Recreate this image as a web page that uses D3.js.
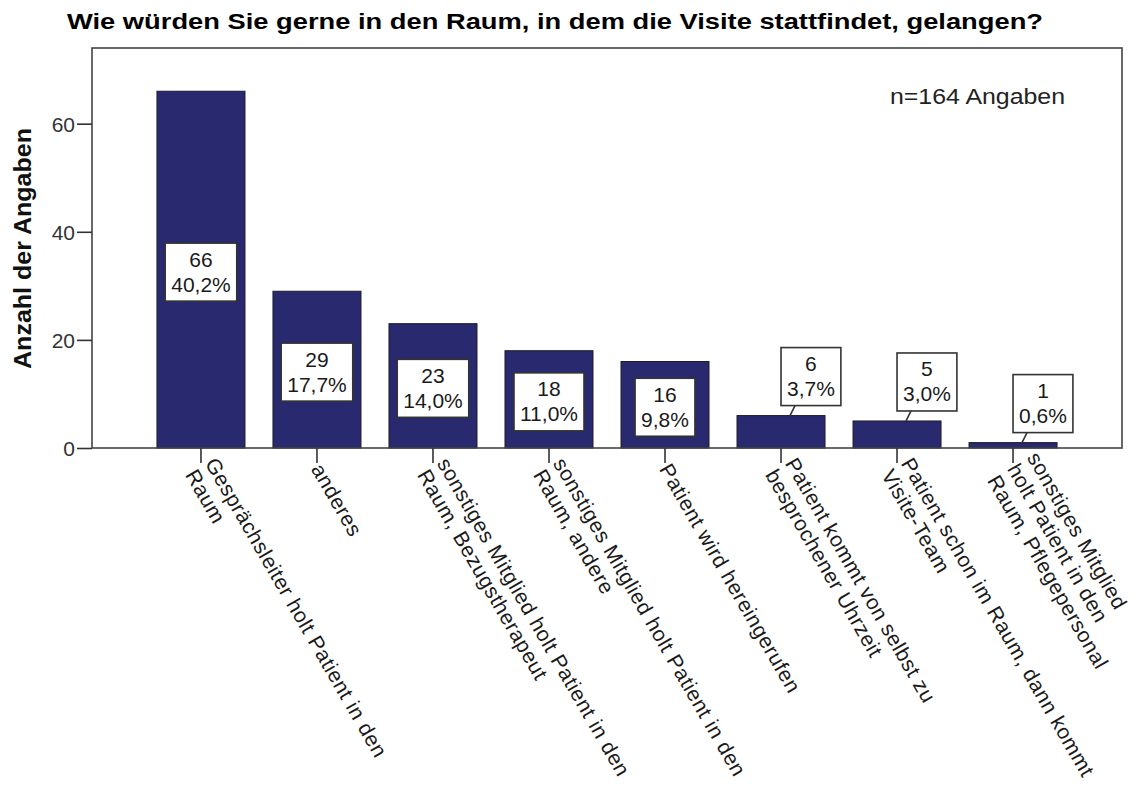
<!DOCTYPE html>
<html>
<head>
<meta charset="utf-8">
<script src="https://cdn.jsdelivr.net/npm/d3@7"></script>
<style>
  html, body { margin: 0; padding: 0; background: #fff; }
  svg { display: block; font-family: "Liberation Sans", Arial, sans-serif; }
</style>
</head>
<body>
<svg id="chart" width="1136" height="787"></svg>
<script>
// Antworten auf die Frage nach dem Weg in den Visitenraum
const categories = [
  "Gesprächsleiter holt Patient in den Raum",
  "anderes",
  "sonstiges Mitglied holt Patient in den Raum, Bezugstherapeut",
  "sonstiges Mitglied holt Patient in den Raum, andere",
  "Patient wird hereingerufen",
  "Patient kommt von selbst zu besprochener Uhrzeit",
  "Patient schon im Raum, dann kommt Visite-Team",
  "sonstiges Mitglied holt Patient in den Raum, Pflegepersonal"
];
const counts = [66, 29, 23, 18, 16, 6, 5, 1];
const total = 164;

// umbrochene Achsenbeschriftungen
const tickLines = [
  ["Gesprächsleiter holt Patient in den", "Raum"],
  ["anderes"],
  ["sonstiges Mitglied holt Patient in den", "Raum, Bezugstherapeut"],
  ["sonstiges Mitglied holt Patient in den", "Raum, andere"],
  ["Patient wird hereingerufen"],
  ["Patient kommt von selbst zu", "besprochener Uhrzeit"],
  ["Patient schon im Raum, dann kommt", "Visite-Team"],
  ["sonstiges Mitglied", "holt Patient in den", "Raum, Pflegepersonal"]
];
const yTicks = [0, 20, 40, 60];

const titleText = "Wie würden Sie gerne in den Raum, in dem die Visite stattfindet, gelangen?";
const yTitle = "Anzahl der Angaben";
const noteText = "n=" + total + " Angaben";

const svg = d3.select("#chart");
const plot = { left: 92, right: 1122, top: 48, bottom: 448 };

const x = d3.scaleBand()
  .domain(categories)
  .range([plot.left, plot.right])
  .paddingInner(0.2414)
  .paddingOuter(0.56);

const y = d3.scaleLinear()
  .domain([0, 74])
  .range([plot.bottom, plot.top]);

const pct = v => d3.format(".1f")(v / total * 100).replace(".", ",") + "%";

// Titel
svg.append("text")
  .attr("x", 67).attr("y", 29)
  .attr("font-size", 22).attr("font-weight", "bold")
  .attr("fill", "#000")
  .attr("textLength", 976)
  .attr("lengthAdjust", "spacingAndGlyphs")
  .text(titleText);

// Balken
svg.append("g").selectAll("rect")
  .data(counts)
  .join("rect")
  .attr("x", (d, i) => x(categories[i]))
  .attr("y", d => y(d))
  .attr("width", x.bandwidth())
  .attr("height", d => y(0) - y(d))
  .attr("fill", "#29296f")
  .attr("stroke", "#1c1c2a")
  .attr("stroke-width", 1);

// Rahmen des Diagrammbereichs
svg.append("rect")
  .attr("x", plot.left).attr("y", plot.top)
  .attr("width", plot.right - plot.left)
  .attr("height", plot.bottom - plot.top)
  .attr("fill", "none")
  .attr("stroke", "#444")
  .attr("stroke-width", 1.6);

// y-Achse
const yAxis = svg.append("g")
  .attr("transform", `translate(${plot.left},0)`)
  .call(d3.axisLeft(y).tickValues(yTicks).tickSize(15).tickPadding(2).tickFormat(d3.format("d")));
yAxis.select(".domain").remove();
yAxis.selectAll(".tick line").attr("stroke", "#333").attr("stroke-width", 1.6);
yAxis.selectAll(".tick text")
  .attr("font-size", 21)
  .attr("font-family", "Liberation Sans, Arial, sans-serif")
  .attr("fill", "#333")
  .attr("dy", "0.38em");

// y-Achsentitel
svg.append("text")
  .attr("transform", "translate(31,248.5) rotate(-90)")
  .attr("text-anchor", "middle")
  .attr("font-size", 23).attr("font-weight", "bold")
  .attr("fill", "#111")
  .attr("textLength", 241)
  .attr("lengthAdjust", "spacingAndGlyphs")
  .text(yTitle);

// x-Achse
const xAxis = svg.append("g")
  .attr("transform", `translate(0,${plot.bottom})`)
  .call(d3.axisBottom(x).tickSize(15).tickFormat(""));
xAxis.select(".domain").remove();
xAxis.selectAll(".tick line").attr("stroke", "#333").attr("stroke-width", 1.6);
xAxis.selectAll(".tick text").remove();

const lineH = 23;
xAxis.selectAll(".tick").each(function(d, i) {
  const lines = tickLines[i];
  const top = -lines.length * lineH / 2;
  const t = d3.select(this).append("text")
    .attr("transform", "translate(0,15) rotate(60)")
    .attr("font-size", 21)
    .attr("letter-spacing", 0.6)
    .attr("fill", "#1a1a1a")
    .attr("text-anchor", "start");
  lines.forEach((ln, k) => {
    t.append("tspan")
      .attr("x", 2)
      .attr("y", top + 20 + k * lineH)
      .text(ln);
  });
});

// Wertebeschriftungen (Anzahl und Prozent)
const labels = svg.append("g");
const boxH = 58;
counts.forEach((v, i) => {
  const cx = x(categories[i]) + x.bandwidth() / 2;
  const g = labels.append("g");
  const rect = g.append("rect")
    .attr("fill", "#fff")
    .attr("stroke", "#333")
    .attr("stroke-width", 1.6);
  const txt = g.append("text")
    .attr("font-size", 21)
    .attr("fill", "#1a1a1a")
    .attr("text-anchor", "middle");
  const l1 = txt.append("tspan").attr("x", 0).attr("y", 23.4).text(v);
  const l2 = txt.append("tspan").attr("x", 0).attr("y", 48.4).text(pct(v));
  const w = Math.max(l1.node().getComputedTextLength(), l2.node().getComputedTextLength()) + 12;
  rect.attr("x", -w / 2).attr("y", 0).attr("width", w).attr("height", boxH);

  const barH = y(0) - y(v);
  if (barH > boxH + 10) {
    const top = y(v / 2) + 2.5 - boxH / 2;
    g.attr("transform", `translate(${cx},${top})`);
  } else {
    const bottom = y(v) - 10;
    const left = cx;
    g.attr("transform", `translate(${left + w / 2},${bottom - boxH})`);
    labels.append("line")
      .attr("x1", left + 14).attr("y1", bottom)
      .attr("x2", left + 9).attr("y2", y(v))
      .attr("stroke", "#333")
      .attr("stroke-width", 1.6);
  }
});

// Fallzahl
svg.append("text")
  .attr("x", 890).attr("y", 104)
  .attr("font-size", 22)
  .attr("fill", "#222")
  .attr("textLength", 175)
  .attr("lengthAdjust", "spacingAndGlyphs")
  .text(noteText);
</script>
</body>
</html>
